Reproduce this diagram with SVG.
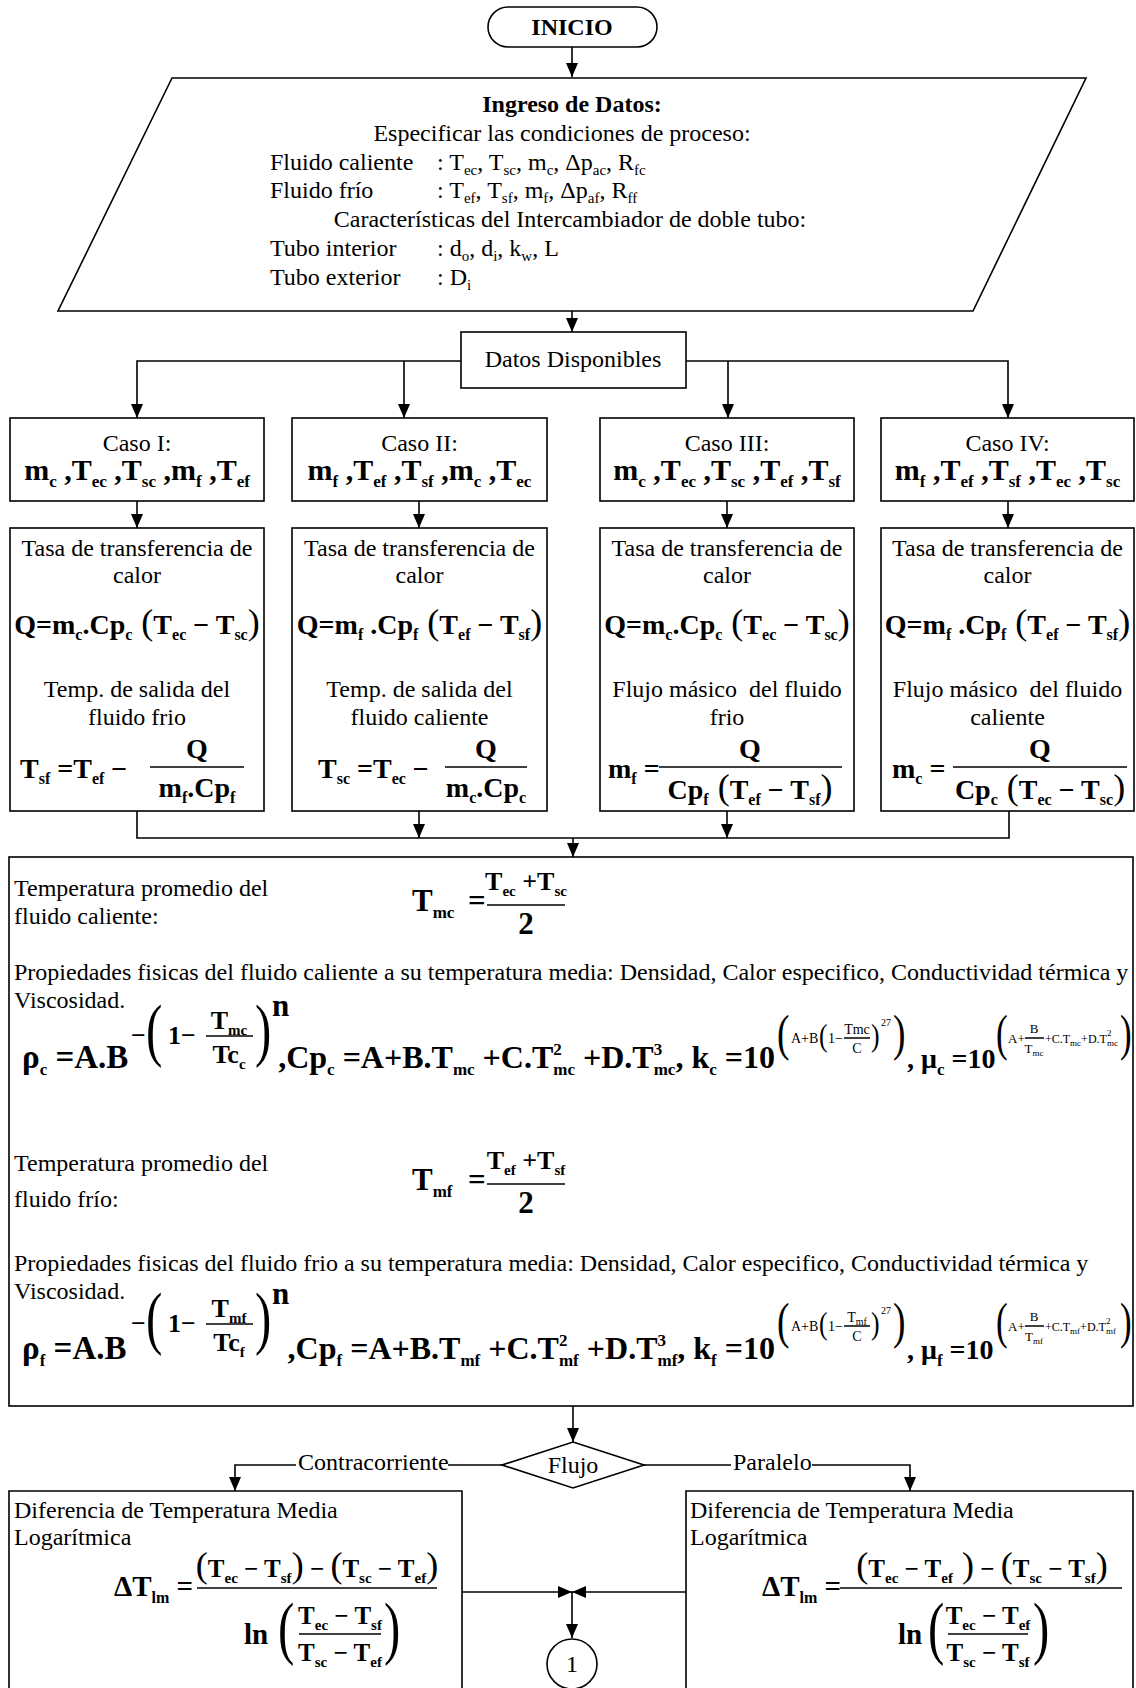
<svg xmlns="http://www.w3.org/2000/svg" width="1136" height="1688" viewBox="0 0 1136 1688">
<style>
text{font-family:"Liberation Serif","Times New Roman",serif;fill:#000}
.r{font-size:24px}
.b{font-weight:bold}
.c{text-anchor:middle}
.e{text-anchor:end}
.f{font-size:28px;font-weight:bold}
.k{font-size:30px;font-weight:bold}
.g{font-size:31px;font-weight:bold}
.g0{font-size:32px;font-weight:bold}
.g1{font-size:33px;font-weight:bold}
.g2{font-size:29px;font-weight:bold}
.g3{font-size:28px;font-weight:bold}
.h{font-size:26px;font-weight:bold}
.h2{font-size:25px;font-weight:bold}
.s{font-size:16px}
.s2{font-size:17px}
.q{font-size:15px}
.x{font-size:14px}
.x2{font-size:13px}
.x3{font-size:12px}
.y{font-size:10px}
.y2{font-size:9px}
.pn{font-size:36px;font-weight:normal}
.bp{font-size:70px;font-weight:normal}
.mp{font-size:50px;font-weight:normal}
.sp{font-size:32px;font-weight:normal}
.box{fill:#fff;stroke:#000;stroke-width:1.6}
.ln{fill:none;stroke:#000;stroke-width:1.6}
.bar{stroke:#000;stroke-width:1.5}
</style>
<defs>
<marker id="ar" viewBox="0 0 14 12" refX="14" refY="6" markerWidth="14" markerHeight="12" markerUnits="userSpaceOnUse" orient="auto"><path d="M0,0L14,6L0,12z" fill="#000"/></marker>
</defs>
<rect width="1136" height="1688" fill="#fff"/>

<!-- connectors -->
<g id="connectors" class="ln">
<path d="M572,47V77" marker-end="url(#ar)"/>
<path d="M572,311V332" marker-end="url(#ar)"/>
<path d="M461,361H137V418" marker-end="url(#ar)"/>
<path d="M404,361V418" marker-end="url(#ar)"/>
<path d="M686,361H1008V418" marker-end="url(#ar)"/>
<path d="M728,361V418" marker-end="url(#ar)"/>
<path d="M137,501V528" marker-end="url(#ar)"/>
<path d="M419,501V528" marker-end="url(#ar)"/>
<path d="M727,501V528" marker-end="url(#ar)"/>
<path d="M1008,501V528" marker-end="url(#ar)"/>
<path d="M137,811V838H1009V811"/>
<path d="M419,811V838" marker-end="url(#ar)"/>
<path d="M727,811V838" marker-end="url(#ar)"/>
<path d="M573,838V857" marker-end="url(#ar)"/>
<path d="M573,1406V1442" marker-end="url(#ar)"/>
<path d="M502,1465H448"/>
<path d="M296,1465H235V1491" marker-end="url(#ar)"/>
<path d="M644,1465H731"/>
<path d="M812,1465H910V1491" marker-end="url(#ar)"/>
<path d="M462,1592H572" marker-end="url(#ar)"/>
<path d="M686,1592H572" marker-end="url(#ar)"/>
<path d="M572,1592V1638" marker-end="url(#ar)"/>
<text class="r" x="298" y="1470" stroke="none">Contracorriente</text>
<text class="r" x="733" y="1470" stroke="none">Paralelo</text>
</g>

<!-- start -->
<g id="inicio">
<rect class="box" x="488" y="7" width="169" height="40" rx="20"/>
<text class="r b c" x="572" y="35">INICIO</text>
</g>

<!-- input data -->
<g id="ingreso">
<polygon class="box" points="172,78 1086,78 973,311 58,311"/>
<text class="r b c" x="572" y="112">Ingreso de Datos:</text>
<text class="r c" x="562" y="141">Especificar las condiciones de proceso:</text>
<text class="r" x="270" y="170">Fluido caliente</text>
<text class="r" x="437" y="170">: T<tspan class="q" dy="5">ec</tspan><tspan dy="-5">, T</tspan><tspan class="q" dy="5">sc</tspan><tspan dy="-5">, m</tspan><tspan class="q" dy="5">c</tspan><tspan dy="-5">, Δp</tspan><tspan class="q" dy="5">ac</tspan><tspan dy="-5">, R</tspan><tspan class="q" dy="5">fc</tspan></text>
<text class="r" x="270" y="198">Fluido frío</text>
<text class="r" x="437" y="198">: T<tspan class="q" dy="5">ef</tspan><tspan dy="-5">, T</tspan><tspan class="q" dy="5">sf</tspan><tspan dy="-5">, m</tspan><tspan class="q" dy="5">f</tspan><tspan dy="-5">, Δp</tspan><tspan class="q" dy="5">af</tspan><tspan dy="-5">, R</tspan><tspan class="q" dy="5">ff</tspan></text>
<text class="r c" x="570" y="227">Características del Intercambiador de doble tubo:</text>
<text class="r" x="270" y="256">Tubo interior</text>
<text class="r" x="437" y="256">: d<tspan class="q" dy="5">o</tspan><tspan dy="-5">, d</tspan><tspan class="q" dy="5">i</tspan><tspan dy="-5">, k</tspan><tspan class="q" dy="5">w</tspan><tspan dy="-5">, L</tspan></text>
<text class="r" x="270" y="285">Tubo exterior</text>
<text class="r" x="437" y="285">: D<tspan class="q" dy="5">i</tspan></text>
</g>

<g id="datos">
<rect class="box" x="461" y="332" width="225" height="56"/>
<text class="r c" x="573" y="367">Datos Disponibles</text>
</g>

<!-- cases -->
<g id="caso1">
<rect class="box" x="10" y="418" width="254" height="83"/>
<text class="r c" x="137" y="451">Caso I:</text>
<text class="k c" x="137" y="480">m<tspan class="s2" dy="7">c</tspan><tspan dy="-7"> ,T</tspan><tspan class="s2" dy="7">ec</tspan><tspan dy="-7"> ,T</tspan><tspan class="s2" dy="7">sc</tspan><tspan dy="-7"> ,m</tspan><tspan class="s2" dy="7">f</tspan><tspan dy="-7"> ,T</tspan><tspan class="s2" dy="7">ef</tspan></text>
</g>
<g id="caso2">
<rect class="box" x="292" y="418" width="255" height="83"/>
<text class="r c" x="419.5" y="451">Caso II:</text>
<text class="k c" x="419.5" y="480">m<tspan class="s2" dy="7">f</tspan><tspan dy="-7"> ,T</tspan><tspan class="s2" dy="7">ef</tspan><tspan dy="-7"> ,T</tspan><tspan class="s2" dy="7">sf</tspan><tspan dy="-7"> ,m</tspan><tspan class="s2" dy="7">c</tspan><tspan dy="-7"> ,T</tspan><tspan class="s2" dy="7">ec</tspan></text>
</g>
<g id="caso3">
<rect class="box" x="600" y="418" width="254" height="83"/>
<text class="r c" x="727" y="451">Caso III:</text>
<text class="k c" x="727" y="480">m<tspan class="s2" dy="7">c</tspan><tspan dy="-7"> ,T</tspan><tspan class="s2" dy="7">ec</tspan><tspan dy="-7"> ,T</tspan><tspan class="s2" dy="7">sc</tspan><tspan dy="-7"> ,T</tspan><tspan class="s2" dy="7">ef</tspan><tspan dy="-7"> ,T</tspan><tspan class="s2" dy="7">sf</tspan></text>
</g>
<g id="caso4">
<rect class="box" x="881" y="418" width="253" height="83"/>
<text class="r c" x="1007.5" y="451">Caso IV:</text>
<text class="k c" x="1007.5" y="480">m<tspan class="s2" dy="7">f</tspan><tspan dy="-7"> ,T</tspan><tspan class="s2" dy="7">ef</tspan><tspan dy="-7"> ,T</tspan><tspan class="s2" dy="7">sf</tspan><tspan dy="-7"> ,T</tspan><tspan class="s2" dy="7">ec</tspan><tspan dy="-7"> ,T</tspan><tspan class="s2" dy="7">sc</tspan></text>
</g>

<!-- heat rate blocks -->
<g id="calc1">
<rect class="box" x="10" y="528" width="254" height="283"/>
<text class="r c" x="137" y="556">Tasa de transferencia de</text>
<text class="r c" x="137" y="583">calor</text>
<text class="f c" x="137" y="634">Q=m<tspan class="s" dy="6">c</tspan><tspan dy="-6">.Cp</tspan><tspan class="s" dy="6">c</tspan><tspan class="pn" dy="-6"> (</tspan>T<tspan class="s" dy="6">ec</tspan><tspan dy="-6"> − T</tspan><tspan class="s" dy="6">sc</tspan><tspan class="pn" dy="-6">)</tspan></text>
<text class="r c" x="137" y="697">Temp. de salida del</text>
<text class="r c" x="137" y="725">fluido frio</text>
<text class="f" x="20" y="778">T<tspan class="s" dy="6">sf</tspan><tspan dy="-6"> =T</tspan><tspan class="s" dy="6">ef</tspan><tspan dy="-6"> −</tspan></text>
<text class="f c" x="197" y="758">Q</text>
<line class="bar" x1="150" y1="767" x2="244" y2="767"/>
<text class="f c" x="197" y="797">m<tspan class="s" dy="6">f</tspan><tspan dy="-6">.Cp</tspan><tspan class="s" dy="6">f</tspan></text>
</g>
<g id="calc2">
<rect class="box" x="292" y="528" width="255" height="283"/>
<text class="r c" x="419.5" y="556">Tasa de transferencia de</text>
<text class="r c" x="419.5" y="583">calor</text>
<text class="f c" x="419.5" y="634">Q=m<tspan class="s" dy="6">f</tspan><tspan dy="-6"> .Cp</tspan><tspan class="s" dy="6">f</tspan><tspan class="pn" dy="-6"> (</tspan>T<tspan class="s" dy="6">ef</tspan><tspan dy="-6"> − T</tspan><tspan class="s" dy="6">sf</tspan><tspan class="pn" dy="-6">)</tspan></text>
<text class="r c" x="419.5" y="697">Temp. de salida del</text>
<text class="r c" x="419.5" y="725">fluido caliente</text>
<text class="f" x="318" y="778">T<tspan class="s" dy="6">sc</tspan><tspan dy="-6"> =T</tspan><tspan class="s" dy="6">ec</tspan><tspan dy="-6"> −</tspan></text>
<text class="f c" x="486" y="758">Q</text>
<line class="bar" x1="445" y1="767" x2="527" y2="767"/>
<text class="f c" x="486" y="797">m<tspan class="s" dy="6">c</tspan><tspan dy="-6">.Cp</tspan><tspan class="s" dy="6">c</tspan></text>
</g>
<g id="calc3">
<rect class="box" x="600" y="528" width="254" height="283"/>
<text class="r c" x="727" y="556">Tasa de transferencia de</text>
<text class="r c" x="727" y="583">calor</text>
<text class="f c" x="727" y="634">Q=m<tspan class="s" dy="6">c</tspan><tspan dy="-6">.Cp</tspan><tspan class="s" dy="6">c</tspan><tspan class="pn" dy="-6"> (</tspan>T<tspan class="s" dy="6">ec</tspan><tspan dy="-6"> − T</tspan><tspan class="s" dy="6">sc</tspan><tspan class="pn" dy="-6">)</tspan></text>
<text class="r c" x="727" y="697">Flujo másico&#160; del fluido</text>
<text class="r c" x="727" y="725">frio</text>
<text class="f" x="608" y="778">m<tspan class="s" dy="6">f</tspan><tspan dy="-6"> =</tspan></text>
<text class="f c" x="750" y="758">Q</text>
<line class="bar" x1="659" y1="767" x2="842" y2="767"/>
<text class="f c" x="750" y="799">Cp<tspan class="s" dy="6">f</tspan><tspan class="pn" dy="-6"> (</tspan>T<tspan class="s" dy="6">ef</tspan><tspan dy="-6"> − T</tspan><tspan class="s" dy="6">sf</tspan><tspan class="pn" dy="-6">)</tspan></text>
</g>
<g id="calc4">
<rect class="box" x="881" y="528" width="253" height="283"/>
<text class="r c" x="1007.5" y="556">Tasa de transferencia de</text>
<text class="r c" x="1007.5" y="583">calor</text>
<text class="f c" x="1007.5" y="634">Q=m<tspan class="s" dy="6">f</tspan><tspan dy="-6"> .Cp</tspan><tspan class="s" dy="6">f</tspan><tspan class="pn" dy="-6"> (</tspan>T<tspan class="s" dy="6">ef</tspan><tspan dy="-6"> − T</tspan><tspan class="s" dy="6">sf</tspan><tspan class="pn" dy="-6">)</tspan></text>
<text class="r c" x="1007.5" y="697">Flujo másico&#160; del fluido</text>
<text class="r c" x="1007.5" y="725">caliente</text>
<text class="f" x="892" y="778">m<tspan class="s" dy="6">c</tspan><tspan dy="-6"> =</tspan></text>
<text class="f c" x="1040" y="758">Q</text>
<line class="bar" x1="953" y1="767" x2="1127" y2="767"/>
<text class="f c" x="1040" y="799">Cp<tspan class="s" dy="6">c</tspan><tspan class="pn" dy="-6"> (</tspan>T<tspan class="s" dy="6">ec</tspan><tspan dy="-6"> − T</tspan><tspan class="s" dy="6">sc</tspan><tspan class="pn" dy="-6">)</tspan></text>
</g>

<!-- mean temperatures and physical properties -->
<g id="propiedades">
<rect class="box" x="9" y="857" width="1124" height="549"/>
<!-- hot fluid -->
<text class="r" x="14" y="896">Temperatura promedio del</text>
<text class="r" x="14" y="924">fluido caliente:</text>
<text class="g" x="412" y="911">T<tspan class="s2" dy="7">mc</tspan></text>
<text class="g" x="468" y="911">=</text>
<text class="h c" x="526" y="890">T<tspan class="q" dy="6">ec</tspan><tspan dy="-6"> +T</tspan><tspan class="q" dy="6">sc</tspan></text>
<line class="bar" x1="487" y1="905" x2="565" y2="905"/>
<text class="g c" x="526" y="934">2</text>
<text class="r" x="14" y="980">Propiedades fisicas del fluido caliente a su temperatura media: Densidad, Calor especifico, Conductividad térmica y</text>
<text class="r" x="14" y="1008">Viscosidad.</text>
<text class="g1" x="22" y="1068">ρ<tspan class="s2" dy="7">c</tspan><tspan dy="-7"> =A.B</tspan></text>
<text class="h" x="131" y="1044">−</text>
<text class="bp" transform="translate(146,1053) scale(.7,1)">(</text>
<text class="h" x="168" y="1044">1−</text>
<text class="h c" x="229" y="1029">T<tspan class="q" dy="6">mc</tspan></text>
<line class="bar" x1="206" y1="1036" x2="253" y2="1036"/>
<text class="h c" x="229" y="1063">Tc<tspan class="q" dy="6">c</tspan></text>
<text class="bp" transform="translate(255,1053) scale(.7,1)">)</text>
<text class="g" x="272" y="1016">n</text>
<text class="g0 e" x="775" y="1068">,Cp<tspan class="s2" dy="7">c</tspan><tspan dy="-7"> =A+B.T</tspan><tspan class="s2" dy="7">mc</tspan><tspan dy="-7"> +C.T</tspan><tspan class="s2" dy="-13">2</tspan><tspan class="s2" dx="-8.5" dy="20">mc</tspan><tspan dy="-7"> +D.T</tspan><tspan class="s2" dy="-13">3</tspan><tspan class="s2" dx="-8.5" dy="20">mc</tspan><tspan dy="-7">, k</tspan><tspan class="s2" dy="7">c</tspan><tspan dy="-7"> =10</tspan></text>
<text class="mp" transform="translate(777,1050) scale(.75,1)">(</text>
<text class="x" x="791" y="1043">A+B</text>
<text class="sp" transform="translate(819,1046) scale(.8,1)">(</text>
<text class="x" x="828" y="1043">1−</text>
<text class="x c" x="857" y="1034">Tmc</text>
<line class="bar" x1="844" y1="1038" x2="870" y2="1038"/>
<text class="x c" x="857" y="1053">C</text>
<text class="sp" transform="translate(871,1046) scale(.8,1)">)</text>
<text class="y" x="881" y="1026">27</text>
<text class="mp" transform="translate(893,1050) scale(.75,1)">)</text>
<text class="g3" x="907" y="1068">, μ<tspan class="s2" dy="7">c</tspan><tspan dy="-7"> =10</tspan></text>
<text class="mp" transform="translate(996,1050) scale(.7,1)">(</text>
<text class="x2" x="1008" y="1043">A+</text>
<text class="x2 c" x="1034" y="1033">B</text>
<line class="bar" x1="1025" y1="1038" x2="1044" y2="1038"/>
<text class="x2 c" x="1034" y="1053">T<tspan class="y2" dy="3">mc</tspan></text>
<text class="x3" x="1045" y="1043">+C.T<tspan class="y2" dy="3">mc</tspan><tspan dy="-3">+D.T</tspan><tspan class="y2" dy="-7">2</tspan><tspan class="y2" dx="-4.5" dy="10">mc</tspan></text>
<text class="mp" transform="translate(1120,1050) scale(.7,1)">)</text>
<!-- cold fluid -->
<text class="r" x="14" y="1171">Temperatura promedio del</text>
<text class="r" x="14" y="1207">fluido frío:</text>
<text class="g" x="412" y="1190">T<tspan class="s2" dy="7">mf</tspan></text>
<text class="g" x="468" y="1190">=</text>
<text class="h c" x="526" y="1169">T<tspan class="q" dy="6">ef</tspan><tspan dy="-6"> +T</tspan><tspan class="q" dy="6">sf</tspan></text>
<line class="bar" x1="487" y1="1184" x2="565" y2="1184"/>
<text class="g c" x="526" y="1213">2</text>
<text class="r" x="14" y="1271">Propiedades fisicas del fluido frio a su temperatura media: Densidad, Calor especifico, Conductividad térmica y</text>
<text class="r" x="14" y="1299">Viscosidad.</text>
<text class="g1" x="22" y="1359">ρ<tspan class="s2" dy="7">f</tspan><tspan dy="-7"> =A.B</tspan></text>
<text class="h" x="131" y="1332">−</text>
<text class="bp" transform="translate(146,1341) scale(.7,1)">(</text>
<text class="h" x="168" y="1332">1−</text>
<text class="h c" x="229" y="1317">T<tspan class="q" dy="6">mf</tspan></text>
<line class="bar" x1="206" y1="1324" x2="253" y2="1324"/>
<text class="h c" x="229" y="1351">Tc<tspan class="q" dy="6">f</tspan></text>
<text class="bp" transform="translate(255,1341) scale(.7,1)">)</text>
<text class="g" x="272" y="1304">n</text>
<text class="g0 e" x="775" y="1359">,Cp<tspan class="s2" dy="7">f</tspan><tspan dy="-7"> =A+B.T</tspan><tspan class="s2" dy="7">mf</tspan><tspan dy="-7"> +C.T</tspan><tspan class="s2" dy="-13">2</tspan><tspan class="s2" dx="-8.5" dy="20">mf</tspan><tspan dy="-7"> +D.T</tspan><tspan class="s2" dy="-13">3</tspan><tspan class="s2" dx="-8.5" dy="20">mf</tspan><tspan dy="-7">, k</tspan><tspan class="s2" dy="7">f</tspan><tspan dy="-7"> =10</tspan></text>
<text class="mp" transform="translate(777,1338) scale(.75,1)">(</text>
<text class="x" x="791" y="1331">A+B</text>
<text class="sp" transform="translate(819,1334) scale(.8,1)">(</text>
<text class="x" x="828" y="1331">1−</text>
<text class="x c" x="857" y="1322">T<tspan class="y" dy="3">mf</tspan></text>
<line class="bar" x1="844" y1="1326" x2="870" y2="1326"/>
<text class="x c" x="857" y="1341">C</text>
<text class="sp" transform="translate(871,1334) scale(.8,1)">)</text>
<text class="y" x="881" y="1314">27</text>
<text class="mp" transform="translate(893,1338) scale(.75,1)">)</text>
<text class="g3" x="907" y="1359">, μ<tspan class="s2" dy="7">f</tspan><tspan dy="-7"> =10</tspan></text>
<text class="mp" transform="translate(996,1338) scale(.7,1)">(</text>
<text class="x2" x="1008" y="1331">A+</text>
<text class="x2 c" x="1034" y="1321">B</text>
<line class="bar" x1="1025" y1="1326" x2="1044" y2="1326"/>
<text class="x2 c" x="1034" y="1341">T<tspan class="y2" dy="3">mf</tspan></text>
<text class="x3" x="1045" y="1331">+C.T<tspan class="y2" dy="3">mf</tspan><tspan dy="-3">+D.T</tspan><tspan class="y2" dy="-7">2</tspan><tspan class="y2" dx="-4.5" dy="10">mf</tspan></text>
<text class="mp" transform="translate(1120,1338) scale(.7,1)">)</text>
</g>

<!-- flow decision -->
<g id="flujo">
<polygon class="box" points="573,1442 644,1465 573,1488 502,1465"/>
<text class="r c" x="573" y="1473">Flujo</text>
</g>

<!-- LMTD counter-current -->
<g id="lmtd-contracorriente">
<path class="box" d="M9,1700V1491H462V1700"/>
<text class="r" x="14" y="1518">Diferencia de Temperatura Media</text>
<text class="r" x="14" y="1545">Logarítmica</text>
<text class="g2" x="114" y="1596">ΔT<tspan class="s" dy="7">lm</tspan><tspan dy="-7"> =</tspan></text>
<text class="h2 c" x="317" y="1577"><tspan class="pn">(</tspan>T<tspan class="q" dy="6">ec</tspan><tspan dy="-6"> − T</tspan><tspan class="q" dy="6">sf</tspan><tspan class="pn" dy="-6">)</tspan> − <tspan class="pn">(</tspan>T<tspan class="q" dy="6">sc</tspan><tspan dy="-6"> − T</tspan><tspan class="q" dy="6">ef</tspan><tspan class="pn" dy="-6">)</tspan></text>
<line class="bar" x1="197" y1="1588" x2="437" y2="1588"/>
<text class="g2" x="244" y="1644">ln</text>
<text class="bp" transform="translate(278,1651) scale(.7,1)">(</text>
<text class="h2 c" x="340" y="1624">T<tspan class="q" dy="6">ec</tspan><tspan dy="-6"> − T</tspan><tspan class="q" dy="6">sf</tspan></text>
<line class="bar" x1="299" y1="1634" x2="381" y2="1634"/>
<text class="h2 c" x="340" y="1661">T<tspan class="q" dy="6">sc</tspan><tspan dy="-6"> − T</tspan><tspan class="q" dy="6">ef</tspan></text>
<text class="bp" transform="translate(384,1651) scale(.7,1)">)</text>
</g>

<!-- LMTD parallel -->
<g id="lmtd-paralelo">
<path class="box" d="M686,1700V1491H1133V1700"/>
<text class="r" x="690" y="1518">Diferencia de Temperatura Media</text>
<text class="r" x="690" y="1545">Logarítmica</text>
<text class="g2" x="762" y="1596">ΔT<tspan class="s" dy="7">lm</tspan><tspan dy="-7"> =</tspan></text>
<text class="h2 c" x="982" y="1577"><tspan class="pn">(</tspan>T<tspan class="q" dy="6">ec</tspan><tspan dy="-6"> − T</tspan><tspan class="q" dy="6">ef</tspan><tspan class="pn" dy="-6"> )</tspan> − <tspan class="pn">(</tspan>T<tspan class="q" dy="6">sc</tspan><tspan dy="-6"> − T</tspan><tspan class="q" dy="6">sf</tspan><tspan class="pn" dy="-6">)</tspan></text>
<line class="bar" x1="840" y1="1588" x2="1122" y2="1588"/>
<text class="g2" x="898" y="1644">ln</text>
<text class="bp" transform="translate(928,1651) scale(.7,1)">(</text>
<text class="h2 c" x="988" y="1624">T<tspan class="q" dy="6">ec</tspan><tspan dy="-6"> − T</tspan><tspan class="q" dy="6">ef</tspan></text>
<line class="bar" x1="948" y1="1634" x2="1028" y2="1634"/>
<text class="h2 c" x="988" y="1661">T<tspan class="q" dy="6">sc</tspan><tspan dy="-6"> − T</tspan><tspan class="q" dy="6">sf</tspan></text>
<text class="bp" transform="translate(1033,1651) scale(.7,1)">)</text>
</g>

<!-- off-page connector -->
<g id="conector-1">
<circle class="box" cx="572" cy="1664" r="25"/>
<text class="r c" x="572" y="1672">1</text>
</g>
</svg>
